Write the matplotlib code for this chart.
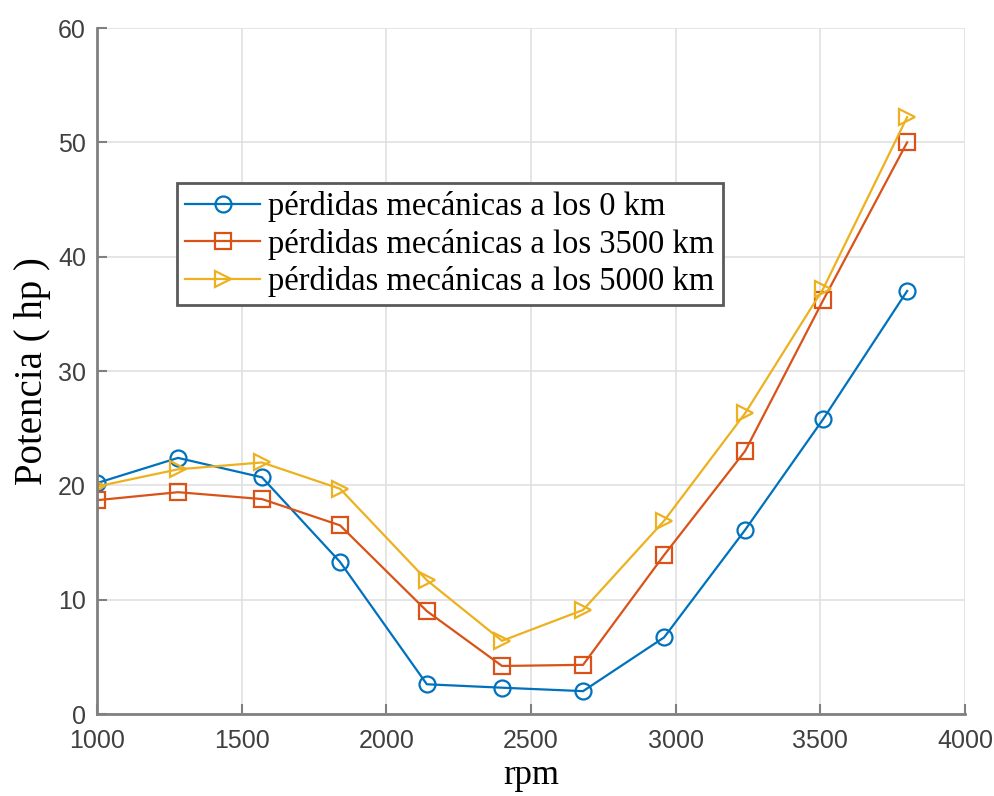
import numpy as np
import matplotlib.pyplot as plt

# datos
rpm = [1000, 1280, 1570, 1840, 2140, 2400, 2680, 2960, 3240, 3510, 3800]
p_0km = [20.2, 22.4, 20.7, 13.3, 2.6, 2.3, 2.0, 6.7, 16.1, 25.8, 37.0]
p_3500km = [18.7, 19.4, 18.8, 16.5, 9.0, 4.2, 4.3, 13.9, 23.0, 36.2, 50.0]
p_5000km = [19.9, 21.4, 22.0, 19.7, 11.7, 6.4, 9.1, 16.9, 26.3, 37.2, 52.2]

labels = ['pérdidas mecánicas a los 0 km',
          'pérdidas mecánicas a los 3500 km',
          'pérdidas mecánicas a los 5000 km']

fig = plt.figure(figsize=(9.95, 7.96), dpi=100)
ax = fig.add_axes([97/995, 1-714/796, 868/995, 686/796])

kw = dict(lw=1.6, ms=11.5, mfc='none', mew=1.6)
ax.plot(rpm, p_0km, '-o', color='#0072BD', label=labels[0], **kw)
ax.plot(rpm, p_3500km, '-s', color='#D95319', label=labels[1], **kw)
ax.plot(rpm, p_5000km, '->', color='#EDB120', label=labels[2], **kw)

ax.set_xlim(1000, 4000)
ax.set_ylim(0, 60)
ax.set_xticks(np.arange(1000, 4001, 500))
ax.set_yticks(np.arange(0, 61, 10))
ax.grid(True, color='#e0e0e0', lw=1.2)
ax.set_axisbelow(True)

for s in ['top', 'right']:
    ax.spines[s].set_visible(False)
for s in ['left', 'bottom']:
    ax.spines[s].set_color('#808080')
    ax.spines[s].set_linewidth(2)
ax.tick_params(direction='in', length=7, width=1.5, color='#808080',
               labelsize=18, labelcolor='#404040')
ax.tick_params(axis='x', pad=11)
ax.tick_params(axis='y', pad=8)
for t in ax.get_xticklabels() + ax.get_yticklabels():
    t.set_family('Liberation Sans')

ax.set_xlabel('rpm', family='Liberation Serif', fontsize=25, labelpad=4)
ax.set_ylabel('Potencia ( hp )', family='Liberation Serif', fontsize=28, labelpad=5)

leg = ax.legend(loc='upper left', bbox_to_anchor=(0.092, 0.774),
                borderaxespad=0,
                prop={'family': 'Liberation Serif', 'size': 23.5},
                fancybox=False, framealpha=1, edgecolor='#5a5a5a',
                handlelength=2.3, borderpad=0.25, labelspacing=0.2,
                handletextpad=0.25)
leg.get_frame().set_linewidth(2)

fig.savefig('out.png', dpi=100)
